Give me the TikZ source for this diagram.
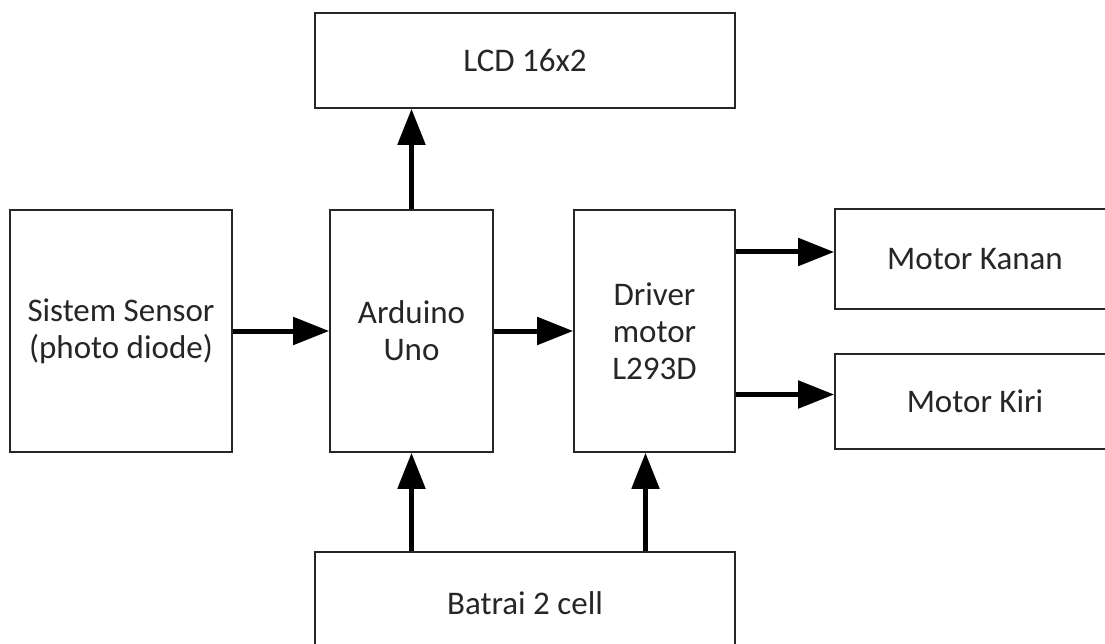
\documentclass[tikz,border=0pt]{standalone}
\usepackage{fontspec}
\setmainfont{Carlito}
\usetikzlibrary{arrows.meta}
\begin{document}
\begin{tikzpicture}[x=1pt, y=-1pt,
  block/.style={draw=black!85, line width=1.6pt, inner sep=0pt, align=center,
    font=\fontsize{33}{37}\selectfont, text=black!85},
  flow/.style={line width=5pt, -{Triangle[length=36pt, width=27pt]}}]
  \useasboundingbox[fill=white] (0,0) rectangle (1105,644);
  % Blocks
  \node[block, minimum width=420pt, minimum height=95pt] (lcd) at (525,60.5) {LCD 16x2};
  \node[block, minimum width=222pt, minimum height=242pt] (sensor) at (121,331) {Sistem Sensor\\(photo diode)};
  \node[block, minimum width=163pt, minimum height=242pt] (arduino) at (411.5,331) {Arduino\\Uno};
  \node[block, minimum width=161pt, minimum height=242pt] (driver) at (654.5,331) {Driver\\motor\\L293D};
  \node[block, minimum width=280pt, minimum height=100pt] (kanan) at (975,259) {Motor Kanan};
  \node[block, minimum width=280pt, minimum height=95pt] (kiri) at (975,401.5) {Motor Kiri};
  \node[block, minimum width=420pt, minimum height=102pt] (batrai) at (525,603) {Batrai 2 cell};
  % Connections
  \draw[flow] (arduino.north) -- (lcd.south -| arduino.north);
  \draw[flow] (sensor.east) -- (arduino.west);
  \draw[flow] (arduino.east) -- (driver.west);
  \draw[flow] ([yshift=7pt]driver.east |- kanan.west) -- ([yshift=7pt]kanan.west);
  \draw[flow] ([yshift=7pt]driver.east |- kiri.west) -- ([yshift=7pt]kiri.west);
  \draw[flow] (batrai.north -| arduino.south) -- (arduino.south);
  \draw[flow] ([xshift=-9pt]batrai.north -| driver.south) -- ([xshift=-9pt]driver.south);
\end{tikzpicture}
\end{document}
